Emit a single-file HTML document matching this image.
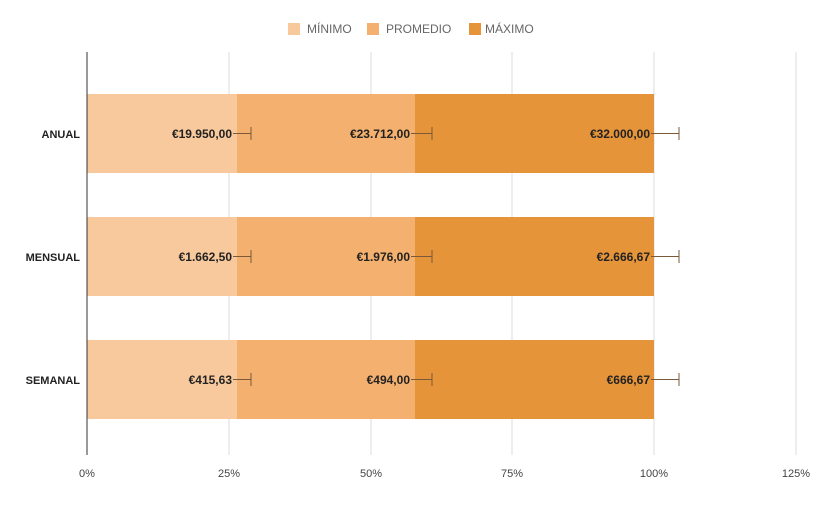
<!DOCTYPE html>
<html><head><style>body{margin:0;background:#fff}svg text{font-family:"Liberation Sans",Arial,sans-serif}</style></head><body>
<svg width="818" height="500" xmlns="http://www.w3.org/2000/svg">
<rect width="818" height="500" fill="#fff"/>
<g font-size="12" fill="#666">
<rect x="288" y="23" width="12" height="12" fill="#f8c99c"/><text x="307" y="33">MÍNIMO</text>
<rect x="367" y="23" width="12" height="12" fill="#f4b06e"/><text x="386" y="33">PROMEDIO</text>
<rect x="469" y="23" width="12" height="12" fill="#e6943a"/><text x="485" y="33">MÁXIMO</text>
</g>
<g stroke="#ddd" stroke-width="1">
<line x1="229" y1="52" x2="229" y2="455"/><line x1="371" y1="52" x2="371" y2="455"/><line x1="512" y1="52" x2="512" y2="455"/><line x1="654" y1="52" x2="654" y2="455"/><line x1="796" y1="52" x2="796" y2="455"/>
</g>
<g>
<rect x="87" y="94" width="150" height="79" fill="#f8c99c"/><rect x="237" y="94" width="178" height="79" fill="#f4b06e"/><rect x="415" y="94" width="239" height="79" fill="#e6943a"/>
<rect x="87" y="217" width="150" height="79" fill="#f8c99c"/><rect x="237" y="217" width="178" height="79" fill="#f4b06e"/><rect x="415" y="217" width="239" height="79" fill="#e6943a"/>
<rect x="87" y="340" width="150" height="79" fill="#f8c99c"/><rect x="237" y="340" width="178" height="79" fill="#f4b06e"/><rect x="415" y="340" width="239" height="79" fill="#e6943a"/>
</g>
<g stroke="#7a5a3a" stroke-width="1" fill="none">
<path d="M233 133.5H251M251 127V140M411 133.5H432M432 127V140M651 133.5H679M679 127V140"/>
<path d="M233 256.5H251M251 250V263M411 256.5H432M432 250V263M651 256.5H679M679 250V263"/>
<path d="M233 379.5H251M251 373V386M411 379.5H432M432 373V386M651 379.5H679M679 373V386"/>
</g>
<g font-size="12" font-weight="bold" fill="#222" text-anchor="end">
<text x="232" y="138">€19.950,00</text><text x="410" y="138">€23.712,00</text><text x="650" y="138">€32.000,00</text>
<text x="232" y="261">€1.662,50</text><text x="410" y="261">€1.976,00</text><text x="650" y="261">€2.666,67</text>
<text x="232" y="384">€415,63</text><text x="410" y="384">€494,00</text><text x="650" y="384">€666,67</text>
</g>
<g font-size="11" font-weight="bold" fill="#222" text-anchor="end">
<text x="80" y="138">ANUAL</text><text x="80" y="261">MENSUAL</text><text x="80" y="384">SEMANAL</text>
</g>
<line x1="87" y1="52" x2="87" y2="455" stroke="#333" stroke-width="1"/>
<g font-size="11" fill="#444" text-anchor="middle">
<text x="87" y="477">0%</text><text x="229" y="477">25%</text><text x="371" y="477">50%</text><text x="512" y="477">75%</text><text x="654" y="477">100%</text><text x="796" y="477">125%</text>
</g>
</svg>
</body></html>
